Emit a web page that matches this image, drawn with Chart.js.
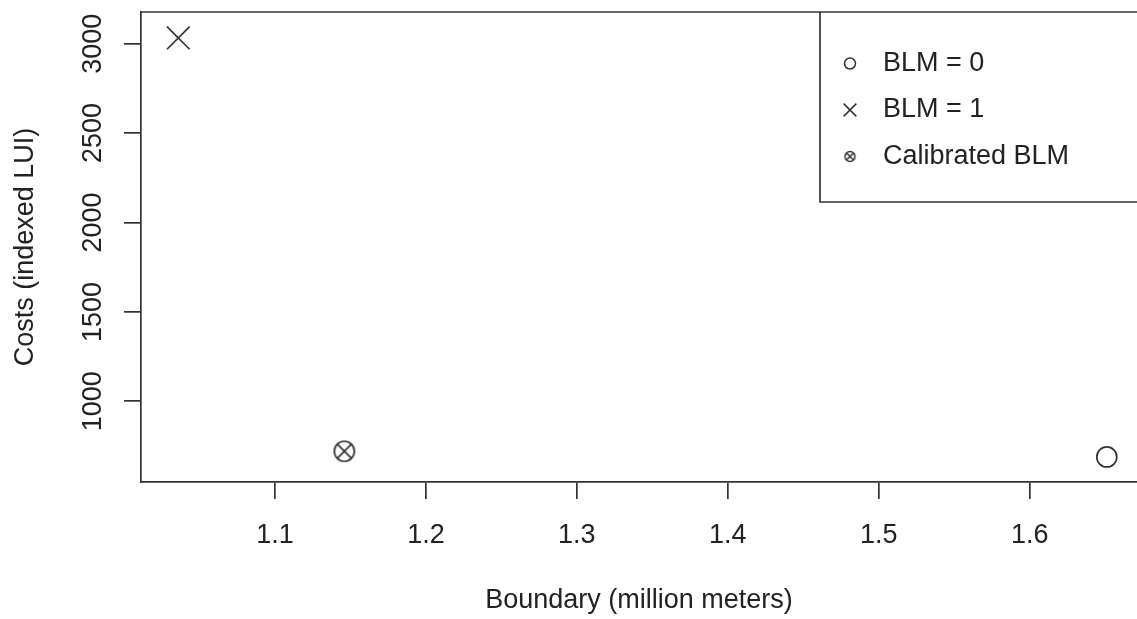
<!DOCTYPE html>
<html>
<head>
<meta charset="utf-8">
<script src="https://cdn.jsdelivr.net/npm/chart.js@4.4.1/dist/chart.umd.min.js"></script>
<style>
  html, body { margin: 0; padding: 0; background: #fff; overflow: hidden; }
</style>
</head>
<body>
<canvas id="chartBLM" width="1137" height="619"></canvas>
<script>
// Dados
const seriesLabels = ['BLM = 0', 'BLM = 1', 'Calibrated BLM'];
const boundaryValues = [1.651, 1.036, 1.146];   // milhões de metros
const costValues = [689, 3032, 721];            // indexed LUI
const xTickValues = [1.1, 1.2, 1.3, 1.4, 1.5, 1.6];
const yTickValues = [1000, 1500, 2000, 2500, 3000];
const xRange = [1.0113, 1.671];
const yRange = [549, 3177];

const INK = '#333333';
const FONT = { family: "'Liberation Sans', Arial, sans-serif", size: 27 };

// Símbolo "círculo com X" (pch 13 do R)
function makeCircleX(r, lw) {
    const size = Math.ceil(2 * r + lw * 2 + 2);
    const c = document.createElement('canvas');
    c.width = size; c.height = size;
    const g = c.getContext('2d');
    const m = size / 2;
    g.strokeStyle = INK;
    g.lineWidth = lw;
    g.beginPath();
    g.arc(m, m, r, 0, Math.PI * 2);
    g.stroke();
    const d = r * Math.SQRT1_2;
    g.beginPath();
    g.moveTo(m - d, m - d); g.lineTo(m + d, m + d);
    g.moveTo(m - d, m + d); g.lineTo(m + d, m - d);
    g.stroke();
    return c;
}

const calibratedMark = makeCircleX(10, 1.7);
const calibratedLegendMark = makeCircleX(5, 1.5);

const pointStyles = ['circle', 'crossRot', calibratedMark];
const pointRadii = [10, 16, 10];
const legendStyles = ['circle', 'crossRot', calibratedLegendMark];
const legendRadii = [5.5, 9, 5];

// Moldura superior (o R desenha a caixa completa)
const framePlugin = {
    id: 'frame',
    afterDraw(chart) {
        const { ctx, chartArea } = chart;
        ctx.save();
        ctx.strokeStyle = INK;
        ctx.lineWidth = 1.7;
        ctx.beginPath();
        ctx.moveTo(chartArea.left, chartArea.top);
        ctx.lineTo(chartArea.right + 2, chartArea.top);
        ctx.stroke();
        ctx.restore();
    }
};

// Legenda dentro da área do gráfico, canto superior direito
const boxLegendPlugin = {
    id: 'boxLegend',
    afterDraw(chart) {
        const { ctx, chartArea } = chart;
        const left = chartArea.right - 317;
        const top = chartArea.top;
        const bottom = top + 190;
        ctx.save();
        ctx.strokeStyle = INK;
        ctx.lineWidth = 1.7;
        ctx.beginPath();
        ctx.moveTo(chartArea.right + 2, bottom);
        ctx.lineTo(left, bottom);
        ctx.lineTo(left, top);
        ctx.stroke();

        ctx.font = `${FONT.size}px ${FONT.family}`;
        ctx.textBaseline = 'middle';
        ctx.textAlign = 'left';
        chart.data.datasets.forEach((ds, i) => {
            const y = top + 51.5 + i * 46.5;
            const opts = {
                pointStyle: legendStyles[i],
                radius: legendRadii[i],
                rotation: 0,
                borderWidth: 1.5
            };
            ctx.strokeStyle = INK;
            ctx.fillStyle = 'rgba(0,0,0,0)';
            ctx.lineWidth = 1.5;
            Chart.helpers.drawPoint(ctx, opts, left + 30, y);
            ctx.fillStyle = '#222';
            ctx.fillText(ds.label, left + 63, y);
        });
        ctx.restore();
    }
};

const datasets = seriesLabels.map((label, i) => ({
    label: label,
    data: [{ x: boundaryValues[i], y: costValues[i] }],
    pointStyle: pointStyles[i],
    pointRadius: pointRadii[i],
    pointHoverRadius: pointRadii[i],
    borderColor: INK,
    backgroundColor: 'rgba(0,0,0,0)',
    pointBorderWidth: 1.7,
    showLine: false
}));

const chartBLM = new Chart(document.getElementById('chartBLM'), {
    type: 'scatter',
    data: { datasets: datasets },
    options: {
        responsive: false,
        animation: false,
        devicePixelRatio: 1,
        events: [],
        layout: { autoPadding: false, padding: { top: 12, left: 0, right: 0, bottom: 0 } },
        plugins: {
            legend: { display: false },
            tooltip: { enabled: false }
        },
        scales: {
            x: {
                type: 'linear',
                min: xRange[0],
                max: xRange[1],
                afterBuildTicks: (scale) => { scale.ticks = xTickValues.map(v => ({ value: v })); },
                afterFit: (scale) => {
                    scale.height = 137;
                    scale.paddingLeft = 0;
                    scale.paddingRight = 0;
                },
                grid: { drawOnChartArea: false, drawTicks: true, tickLength: 17, tickColor: INK, lineWidth: 1.7 },
                border: { display: true, color: INK, width: 1.7 },
                ticks: {
                    font: FONT,
                    color: '#222',
                    padding: 20,
                    maxRotation: 0,
                    autoSkip: false,
                    callback: (v) => v.toFixed(1)
                },
                title: {
                    display: true,
                    text: 'Boundary (million meters)',
                    font: FONT,
                    color: '#222',
                    padding: { top: 0, bottom: 2 }
                }
            },
            y: {
                type: 'linear',
                min: yRange[0],
                max: yRange[1],
                afterBuildTicks: (scale) => { scale.ticks = yTickValues.map(v => ({ value: v })); },
                afterFit: (scale) => {
                    scale.width = 141;
                    scale.paddingTop = 0;
                    scale.paddingBottom = 0;
                },
                grid: { drawOnChartArea: false, drawTicks: true, tickLength: 17, tickColor: INK, lineWidth: 1.7 },
                border: { display: true, color: INK, width: 1.7 },
                ticks: {
                    font: FONT,
                    color: '#222',
                    padding: 0,
                    minRotation: 90,
                    maxRotation: 90,
                    crossAlign: 'center',
                    autoSkip: false,
                    callback: (v) => String(v)
                },
                title: {
                    display: true,
                    text: 'Costs (indexed LUI)',
                    font: FONT,
                    color: '#222',
                    padding: { top: 9, bottom: 0 }
                }
            }
        }
    },
    plugins: [framePlugin, boxLegendPlugin]
});
</script>
</body>
</html>
